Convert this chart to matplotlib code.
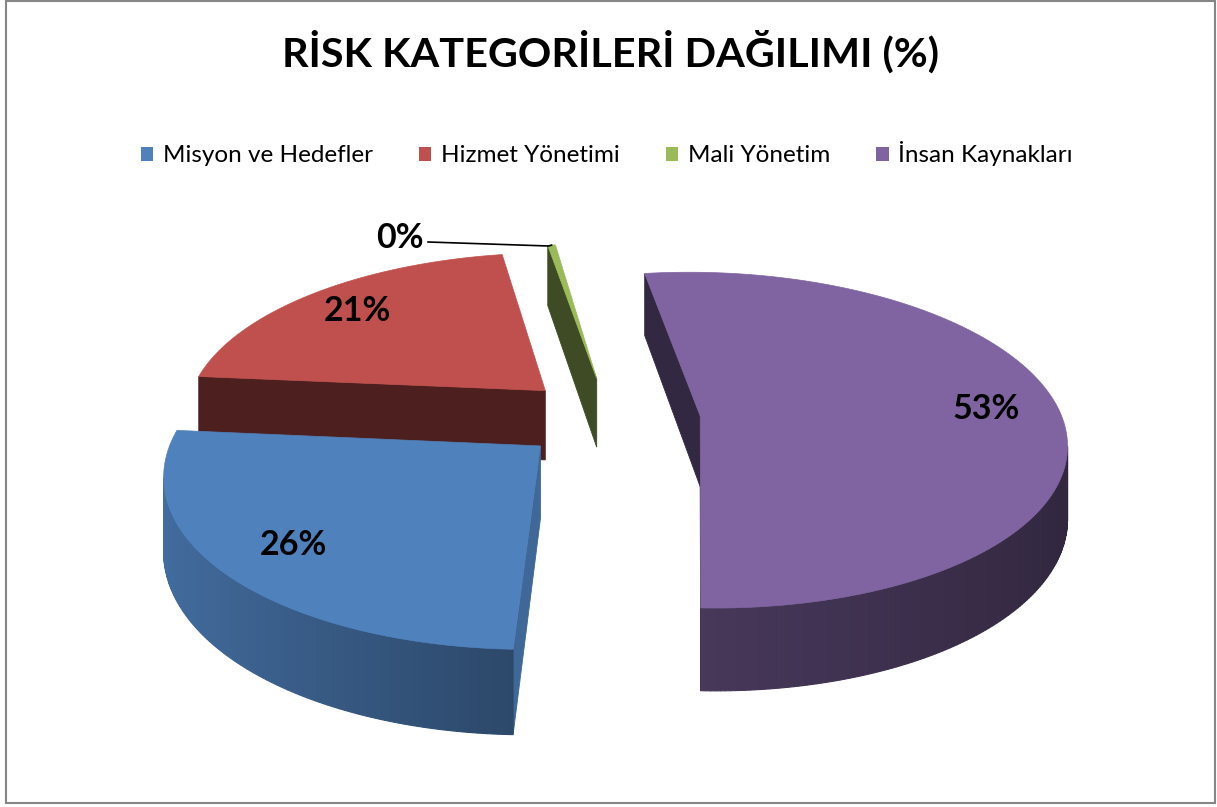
import numpy as np
import matplotlib.pyplot as plt
from matplotlib.colors import to_rgb
from matplotlib.patches import Patch, Rectangle

plt.rcParams['font.family'] = ['Lato', 'DejaVu Sans']

# data
labels = ['Misyon ve Hedefler', 'Hizmet Yönetimi', 'Mali Yönetim', 'İnsan Kaynakları']
values = [26, 21, 0.4, 53]
colors = ['#4F81BD', '#C0504D', '#9BBB59', '#8064A2']
title = 'RİSK KATEGORİLERİ DAĞILIMI (%)'

W, H = 1217, 807
fig = plt.figure(figsize=(W / 100, H / 100), dpi=100)
ax = fig.add_axes([0, 0, 1, 1])
ax.set_xlim(0, W)
ax.set_ylim(H, 0)
ax.axis('off')

# 3d pie geometry (pixels)
CX, CY = 610, 418
RX, RY = 362, 165
PERSP = 0.145
DEPTH = 71
EXPLODE = 0.25
START = 2.0
cam = (0.0, 1 / PERSP)


def direc(t):
    # angle t in degrees, clockwise from the bottom of the pie
    r = np.radians(t)
    return -np.sin(r), np.cos(r)


def proj(u, v, z=0.0):
    s = 1 / (1 - PERSP * v)
    return CX + RX * u * s, CY + RY * v * s + DEPTH * z * s


def facing(nu, nv, pu, pv):
    return nu * (cam[0] - pu) + nv * (cam[1] - pv) > 0


def shade(c, f):
    return tuple(np.clip(np.array(to_rgb(c)) * f, 0, 1))


def quad(u0, v0, u1, v1):
    pts = [proj(u0, v0, 0), proj(u1, v1, 0), proj(u1, v1, 1), proj(u0, v0, 1)]
    return [p[0] for p in pts], [p[1] for p in pts]


fracs = np.array(values) / sum(values)
edges = START + np.concatenate([[0], np.cumsum(fracs)]) * 360

slices = []
for i in range(len(values)):
    t0, t1 = edges[i], edges[i + 1]
    tm = (t0 + t1) / 2
    du, dv = direc(tm)
    slices.append((EXPLODE * dv, i, t0, t1, tm))

label_pos = {}
for v_off, i, t0, t1, tm in sorted(slices):
    du, dv = direc(tm)
    u0, v0 = EXPLODE * du, EXPLODE * dv
    col = colors[i]

    # radial cut faces
    for te, tn in ((t0, t0 - 90), (t1, t1 + 90)):
        nu, nv = direc(tn)
        eu, ev = direc(te)
        if facing(nu, nv, u0 + eu / 2, v0 + ev / 2):
            xs, ys = quad(u0, v0, u0 + eu, v0 + ev)
            f = 0.8 if nu > 0 else 0.4
            ax.fill(xs, ys, color=shade(col, f), lw=0.6)

    # outer wall
    ts = np.linspace(t0, t1, max(3, int((t1 - t0) * 1.5)))
    for a, b in zip(ts[:-1], ts[1:]):
        nu, nv = direc((a + b) / 2)
        if not facing(nu, nv, u0 + nu, v0 + nv):
            continue
        au, av = direc(a)
        bu, bv = direc(b)
        pts = [proj(u0 + au, v0 + av, 0), proj(u0 + bu, v0 + bv, 0),
               proj(u0 + bu, v0 + bv, 1), proj(u0 + au, v0 + av, 1)]
        f = 0.55 - 0.3 * nu if nu < 0 else 0.55 - 0.17 * nu
        ax.fill([p[0] for p in pts], [p[1] for p in pts], color=shade(col, f), lw=0.8)

    # top face
    top = [proj(u0, v0)]
    for t in ts:
        au, av = direc(t)
        top.append(proj(u0 + au, v0 + av))
    ax.fill([p[0] for p in top], [p[1] for p in top], color=col, lw=0.5)

    label_pos[i] = (proj(u0 + 0.8 * du, v0 + 0.8 * dv), proj(u0 + du, v0 + dv))

# data labels
for i, frac in enumerate(fracs):
    txt = f'{round(frac * 100):.0f}%'
    inner, outer = label_pos[i]
    if frac >= 0.05:
        ax.text(inner[0], inner[1], txt, ha='center', va='center',
                fontsize=24.5, fontweight='bold', color='black')
    else:
        lx, ly = 428, 242
        ax.plot([lx, outer[0] - 3, outer[0]], [ly, ly + 4, outer[1]],
                color='black', lw=1.2)
        ax.text(lx - 4, ly - 4, txt, ha='right', va='center',
                fontsize=24.5, fontweight='bold', color='black')

fig.text(610 / W, 1 - 52 / H, title, ha='center', va='center',
         fontsize=29.8, fontweight='bold')

handles = [Patch(facecolor=c, edgecolor='none') for c in colors]
ax.legend(handles, labels, loc='center', bbox_to_anchor=(607 / W, 1 - 154 / H),
          bbox_transform=fig.transFigure, ncol=4, frameon=False, fontsize=17.5,
          handlelength=0.5, handleheight=0.5, handletextpad=0.4, columnspacing=1.9)

ax.add_patch(Rectangle((5.5, 0.5), 1209.5, 802.5, fill=False, edgecolor='#868686', lw=1.5))

fig.savefig('out.png', dpi=100)
